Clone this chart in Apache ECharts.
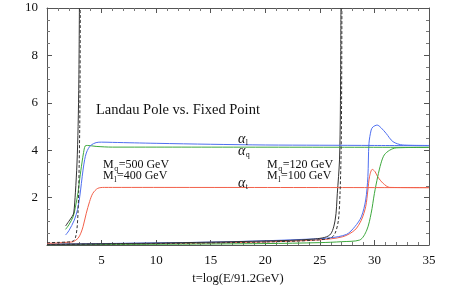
<!DOCTYPE html>
<html>
<head>
<meta charset="utf-8">
<script src="https://cdn.jsdelivr.net/npm/echarts@6/dist/echarts.min.js"></script>
<style>html,body{margin:0;padding:0;background:#fff}#c{width:463px;height:286px}</style>
</head>
<body>
<div id="c"></div>
<script>
// tick labels
const xTicks = [5, 10, 15, 20, 25, 30, 35];
const yTicks = [2, 4, 6, 8, 10];

// Heavy case (M_q=500 GeV, M_l=400 GeV)
const alphaL_heavy = [[1.7,0.42],[2.0,0.6],[2.5,1.05],[2.8,1.5],[3.0,2.04],[3.15,2.6],[3.3,3.16],[3.45,3.6],[3.6,3.88],[3.8,4.08],[4.05,4.22],[4.5,4.32],[5,4.34],[6,4.33],[8,4.31],[10,4.29],[15,4.25],[20,4.22],[25,4.21],[30,4.2],[35,4.19]];
const alphaQ_heavy = [[1.7,0.66],[2.0,0.85],[2.4,1.2],[2.6,1.6],[2.84,2.2],[3.0,2.8],[3.2,3.46],[3.35,3.9],[3.5,4.18],[3.7,4.2],[4.5,4.16],[6,4.13],[10,4.13],[35,4.12]];
const alphaT_heavy = [[0,0.07],[1,0.09],[2,0.12],[2.4,0.14],[2.84,0.28],[3.1,0.5],[3.3,0.77],[3.6,1.34],[3.9,1.83],[4.2,2.18],[4.65,2.39],[5.25,2.43],[6,2.43],[35,2.42]];
const pole_heavy = [[1.7,0.8],[2.0,1.0],[2.3,1.2],[2.45,1.35],[2.6,2.2],[2.75,3.46],[2.85,5],[2.92,7],[2.97,10]];
const poleDash_heavy = [[0,0.1],[1,0.11],[2,0.13],[2.4,0.17],[2.6,0.3],[2.75,0.7],[2.84,1.35],[2.9,2.2],[2.95,3.46],[3.0,5],[3.03,7],[3.05,10]];

// Light case (M_q=120 GeV, M_l=100 GeV)
const alphaL_light = [[0,0.03],[5,0.06],[10,0.09],[15,0.12],[20,0.18],[23,0.23],[25.9,0.3],[27.45,0.45],[28.2,0.77],[28.8,1.19],[29.2,1.9],[29.4,2.88],[29.5,4.29],[29.7,4.85],[29.86,4.98],[30.25,5.06],[30.6,4.95],[31.07,4.71],[31.7,4.36],[32.6,4.22],[35,4.2]];
const alphaT_light = [[0,0.02],[5,0.04],[10,0.06],[15,0.09],[20,0.13],[25,0.22],[27.1,0.35],[28.2,0.63],[28.8,1.05],[29.2,1.62],[29.4,2.32],[29.55,2.88],[29.8,3.19],[30.05,3.1],[30.3,2.88],[30.8,2.6],[31.4,2.43],[35,2.42]];
const alphaQ_light = [[0,0.01],[10,0.03],[20,0.06],[25,0.1],[27,0.14],[28.65,0.21],[29.3,0.63],[29.7,1.34],[30.0,2.18],[30.3,2.88],[30.6,3.45],[30.9,3.8],[31.4,4.0],[32,4.1],[35,4.12]];
const pole_light = [[0,0.03],[10,0.08],[20,0.17],[24.4,0.25],[25.9,0.42],[26.4,1.05],[26.6,2.18],[26.8,3.59],[26.88,5.7],[26.93,10]];
const poleDash_light = [[0,0.02],[10,0.06],[20,0.13],[24.4,0.2],[26.0,0.3],[26.4,0.5],[26.7,1.05],[26.85,2.2],[26.95,4.0],[26.99,6],[27.02,10]];

const BLUE = '#4f6ff0', GREEN = '#3da83d', RED = '#f2604a', BLACK = '#333';
const serif = 'Liberation Serif';

function line(data, color, dashed) {
  return {
    type: 'line', data: data, showSymbol: false, symbol: 'none', smooth: 0.3,
    clip: true, z: dashed ? 3 : 2,
    lineStyle: { color: color, width: 1, type: dashed ? [3, 2] : 'solid' }
  };
}

const chart = echarts.init(document.getElementById('c'), null, { renderer: 'canvas' });

const axLine = { show: true, onZero: false, lineStyle: { color: '#555', width: 1 } };
const axTick = { show: true, inside: true, length: 5, lineStyle: { color: '#555' } };

function xAx(top) {
  return {
    type: 'value', min: 0, max: 35, interval: 5, position: top ? 'top' : 'bottom',
    name: top ? '' : 't=log(E/91.2GeV)', nameLocation: 'middle', nameGap: 26,
    nameTextStyle: { fontFamily: serif, fontSize: 12.5, color: '#111' },
    axisLine: axLine, axisTick: axTick, splitLine: { show: false },
    axisLabel: { show: !top, fontFamily: serif, fontSize: 13, color: '#111', margin: 9,
      formatter: v => xTicks.indexOf(v) >= 0 ? String(v) : '' },
    minorTick: { show: true, splitNumber: 5, length: 3, lineStyle: { color: '#777' } }
  };
}
function yAx(right) {
  return {
    type: 'value', min: 0, max: 10, interval: 2, position: right ? 'right' : 'left',
    axisLine: axLine, axisTick: axTick, splitLine: { show: false },
    axisLabel: { show: !right, fontFamily: serif, fontSize: 13, color: '#111', margin: 9,
      formatter: v => yTicks.indexOf(v) >= 0 ? String(v) : '' },
    minorTick: { show: true, splitNumber: 4, length: 3, lineStyle: { color: '#777' } }
  };
}

// text with a subscript, built from separate pieces
const ctx = document.createElement('canvas').getContext('2d');
function w(font, s) { ctx.font = font; return ctx.measureText(s).width; }
function subText(x, y, main, sub, rest, mainFont, subFont, drop) {
  const els = [];
  const w1 = w(mainFont, main);
  els.push({ type: 'text', x: x, y: y, z: 10, style: { text: main, font: mainFont, fill: '#111', verticalAlign: 'middle', align: 'left' } });
  els.push({ type: 'text', x: x + w1 + 0.5, y: y + drop, z: 10, style: { text: sub, font: subFont, fill: '#111', verticalAlign: 'middle', align: 'left' } });
  if (rest) {
    const w2 = w(subFont, sub);
    els.push({ type: 'text', x: x + w1 + w2 + 1, y: y, z: 10, style: { text: rest, font: mainFont, fill: '#111', verticalAlign: 'middle', align: 'left' } });
  }
  return els;
}
const mFont = '12px ' + serif, sFont = '8px ' + serif, aFont = 'italic 14px ' + serif;

const graphics = [
  { type: 'text', x: 96, y: 110, z: 10,
    style: { text: 'Landau Pole vs. Fixed Point', font: '14.5px ' + serif, fill: '#111', verticalAlign: 'middle', align: 'left' } }
].concat(
  subText(238, 139, 'α', 'l', '', aFont, sFont, 4),
  subText(238, 151, 'α', 'q', '', aFont, sFont, 4),
  subText(238, 183, 'α', 't', '', aFont, sFont, 4),
  subText(103, 165, 'M', 'q', '=500 GeV', mFont, sFont, 3.5),
  subText(103, 176, 'M', 'l', '=400 GeV', mFont, sFont, 3.5),
  subText(267, 165, 'M', 'q', '=120 GeV', mFont, sFont, 3.5),
  subText(267, 176, 'M', 'l', '=100 GeV', mFont, sFont, 3.5)
);

chart.setOption({
  animation: false,
  backgroundColor: '#fff',
  grid: { left: 47, top: 8, width: 382, height: 237, outerBoundsMode: 'none', containLabel: false },
  xAxis: [xAx(false), xAx(true)],
  yAxis: [yAx(false), yAx(true)],
  series: [
    line(alphaT_light, RED, false),
    line(alphaQ_light, GREEN, false),
    line(alphaL_light, BLUE, false),
    line(pole_light, BLACK, false),
    line(poleDash_light, BLACK, true),
    line(alphaT_heavy, RED, false),
    line(alphaQ_heavy, GREEN, false),
    line(alphaL_heavy, BLUE, false),
    line(pole_heavy, BLACK, false),
    line(poleDash_heavy, BLACK, true)
  ],
  graphic: graphics
});
</script>
</body>
</html>
